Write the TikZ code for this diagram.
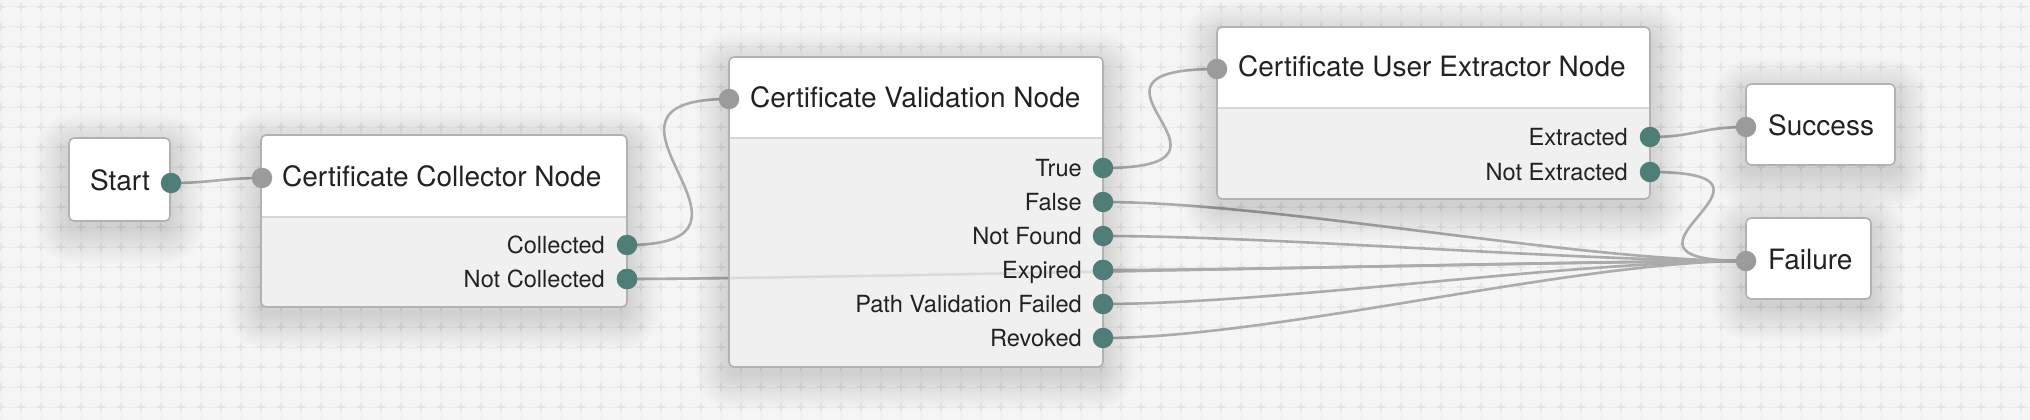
\documentclass[tikz,border=0pt]{standalone}
\usepackage{fontspec}
\setmainfont{TeX Gyre Heros}
\definecolor{bg}{HTML}{F5F5F5}
\definecolor{gridc}{HTML}{EEEEEE}
\definecolor{crossc}{HTML}{E5E5E5}
\definecolor{portout}{HTML}{4F7D77}
\definecolor{portin}{HTML}{9B9B9B}
\definecolor{edgec}{HTML}{ABABAB}
\definecolor{boxline}{HTML}{B2B2B2}
\definecolor{bodyc}{HTML}{F0F0F0}
\definecolor{divc}{HTML}{D6D6D6}
\definecolor{txt}{HTML}{222222}
\pgfdeclarelayer{gridlayer}
\pgfdeclarelayer{linklayer}
\pgfsetlayers{gridlayer,linklayer,main}
\tikzset{
  card/.style={fill=white, rounded corners=5pt, anchor=north west, inner sep=0pt, outer sep=0pt},
  cardborder/.style={draw=boxline, line width=1.6pt, rounded corners=5pt},
  divider/.style={draw=divc, line width=1.6pt},
  softshadow/.style={fill=black, fill opacity=0.008},
  outport/.style={circle, fill=portout, minimum size=20.5pt, inner sep=0pt},
  inport/.style={circle, fill=portin, minimum size=20.5pt, inner sep=0pt},
  title/.style={anchor=base west, font=\fontsize{28}{30}\selectfont, text=txt, inner sep=0pt},
  ctitle/.style={anchor=base, font=\fontsize{28}{30}\selectfont, text=txt, inner sep=0pt},
  plabel/.style={anchor=base east, font=\fontsize{23.6}{26}\selectfont, text=txt, inner sep=0pt},
  link/.style={draw=edgec, line width=2.6pt},
}
% soft shadow: x1,y1,x2,y2
\newcommand{\mkshadow}[4]{%
  \foreach \i in {0,2,...,34} {
    \fill[softshadow, rounded corners={5pt+\i pt}] (#1-\i,#2-\i+9) rectangle (#3+\i,#4+\i+9);
  }
}
% name, x1, y1, x2, y2, ydiv
\newcommand{\mkcard}[6]{%
  \mkshadow{#2}{#3}{#4}{#5}
  \node[card, minimum width={#4pt-#2pt}, minimum height={#5pt-#3pt}] (#1) at (#2,#3) {};
  \begin{scope}
    \clip[rounded corners=5pt] (#1.north west) rectangle (#1.south east);
    \fill[bodyc] (#2,#6) rectangle (#4,#5);
  \end{scope}
  \draw[divider] (#2,#6) -- (#4,#6);
  \draw[cardborder] (#1.north west) rectangle (#1.south east);
}
\newcommand{\mkbox}[5]{%
  \mkshadow{#2}{#3}{#4}{#5}
  \node[card, minimum width={#4pt-#2pt}, minimum height={#5pt-#3pt}] (#1) at (#2,#3) {};
  \draw[cardborder] (#1.north west) rectangle (#1.south east);
}
\begin{document}
\begin{tikzpicture}[x=1pt, y=-1pt]
\useasboundingbox (0,0) rectangle (2030,420);
\begin{pgfonlayer}{gridlayer}
  \fill[bg] (0,0) rectangle (2030,420);
  \foreach \x in {1,21,...,2021} {\draw[gridc, line width=1pt] (\x,0) -- (\x,420);}
  \foreach \y in {7,27,...,407} {\draw[gridc, line width=1pt] (0,\y) -- (2030,\y);}
  \foreach \x in {1,21,...,2021} {
    \draw[crossc, line width=1.6pt] \foreach \y in {7,27,...,407} {(\x-4,\y) -- (\x+4,\y) (\x,\y-4) -- (\x,\y+4)};
  }
\end{pgfonlayer}

% cards
\mkbox{start}{69}{138}{170}{221}
\mkcard{coll}{261}{135}{627}{307}{217}
\mkcard{val}{729}{57}{1103}{367}{138}
\mkcard{ext}{1217}{27}{1650}{199}{108}
\mkbox{succ}{1746}{84}{1895}{165}
\mkbox{fail}{1746}{218}{1871}{299}

% ports
\node[outport] (start-out) at (171,183) {};
\node[inport] (coll-in) at (262,178) {};
\node[outport] (coll-c) at (627,245) {};
\node[outport] (coll-nc) at (627,279) {};
\node[inport] (val-in) at (729,99) {};
\node[outport] (val-true) at (1103,168) {};
\node[outport] (val-false) at (1103,202) {};
\node[outport] (val-nf) at (1103,236) {};
\node[outport] (val-exp) at (1103,270) {};
\node[outport] (val-pvf) at (1103,304) {};
\node[outport] (val-rev) at (1103,338) {};
\node[inport] (ext-in) at (1217,69) {};
\node[outport] (ext-ex) at (1650,137) {};
\node[outport] (ext-nex) at (1650,172) {};
\node[inport] (succ-in) at (1746,127) {};
\node[inport] (fail-in) at (1746,261) {};

% links
\begin{pgfonlayer}{linklayer}
  \draw[link] (start-out.center) .. controls +(40,0) and +(-40,0) .. (coll-in.center);
  \draw[link] (coll-c.center) .. controls +(170,0) and +(-170,0) .. (val-in.center);
  \draw[link] (coll-nc.center) .. controls +(170,0) and +(-170,0) .. (fail-in.center);
  \draw[link] (val-true.center) .. controls +(170,0) and +(-170,0) .. (ext-in.center);
  \foreach \p in {val-false,val-nf,val-exp,val-pvf,val-rev}
    {\draw[link] (\p.center) .. controls +(170,0) and +(-170,0) .. (fail-in.center);}
  \draw[link] (ext-ex.center) .. controls +(45,0) and +(-45,0) .. (succ-in.center);
  \draw[link] (ext-nex.center) .. controls +(170,0) and +(-170,0) .. (fail-in.center);
\end{pgfonlayer}
% the connector seen faintly through the validation card
\draw[link, draw opacity=0.3] (coll-nc.center) .. controls +(170,0) and +(-170,0) .. (fail-in.center);
% redraw ports above the faint overlay
\foreach \p in {coll-nc,val-exp} {\fill[portout] (\p) circle (10.25pt);}

% texts
\node[ctitle] (start-t) at (120,190) {Start};
\node[title] (coll-t) at (282,186) {Certificate Collector Node};
\node[title] (val-t) at (750,107) {Certificate Validation Node};
\node[title] (ext-t) at (1238,77) {Certificate User Extractor Node};
\node[title] (succ-t) at (1768,135) {Success};
\node[title] (fail-t) at (1768,269) {Failure};

\node[plabel] (l-c) at (605,253.5) {Collected};
\node[plabel] (l-nc) at (605,287.5) {Not Collected};
\node[plabel] (l-true) at (1082,176.5) {True};
\node[plabel] (l-false) at (1082,210.5) {False};
\node[plabel] (l-nf) at (1082,244.5) {Not Found};
\node[plabel] (l-exp) at (1082,278.5) {Expired};
\node[plabel] (l-pvf) at (1082,312.5) {Path Validation Failed};
\node[plabel] (l-rev) at (1082,346.5) {Revoked};
\node[plabel] (l-ex) at (1628,145.5) {Extracted};
\node[plabel] (l-nex) at (1628,180.5) {Not Extracted};
\end{tikzpicture}
\end{document}
